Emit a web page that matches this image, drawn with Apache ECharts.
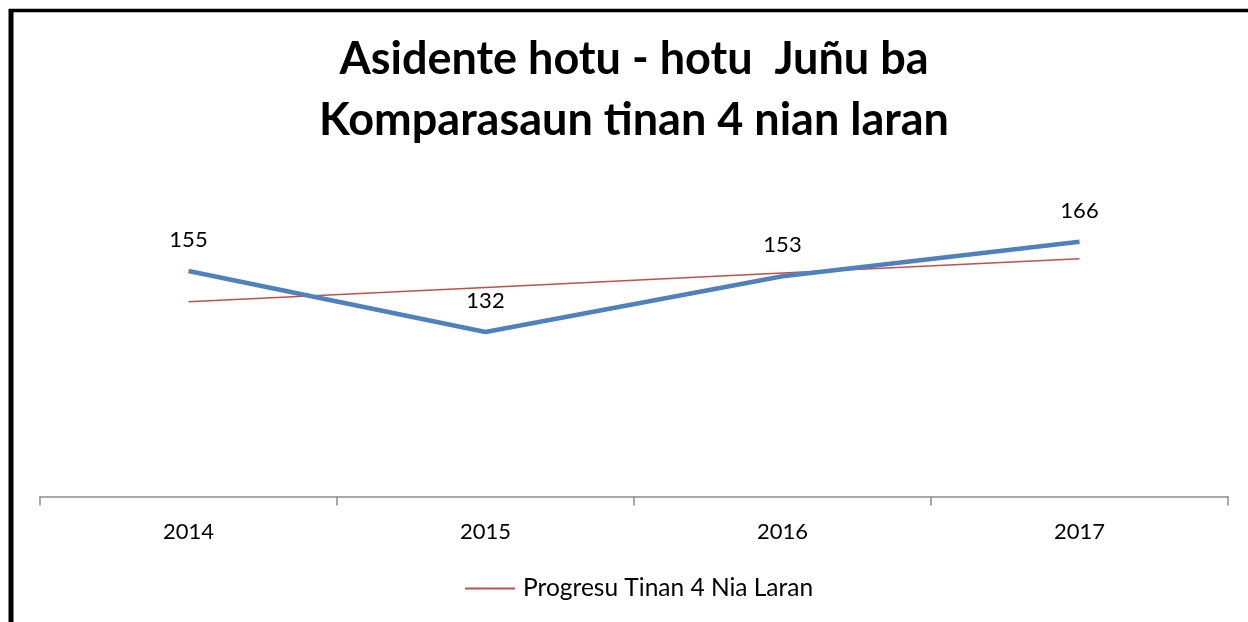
<!DOCTYPE html>
<html>
<head>
<meta charset="utf-8">
<script src="https://cdn.jsdelivr.net/npm/echarts@6/dist/echarts.min.js"></script>
<style>
html,body{margin:0;padding:0;background:#fff;}
#chart{width:1248px;height:622px;}
</style>
</head>
<body>
<div id="chart"></div>
<script>
const titleText = "Asidente hotu - hotu  Juñu ba\nKomparasaun tinan 4 nian laran";
const categories = ["2014", "2015", "2016", "2017"];
const accidents = [155, 132, 153, 166];
const trendName = "Progresu Tinan 4 Nia Laran";
const trendValues = [143.4, 148.8, 154.2, 159.6];

const FONT = "Lato, 'Open Sans', sans-serif";
const chart = echarts.init(document.getElementById('chart'));
chart.setOption({
  backgroundColor: '#ffffff',
  animation: false,
  title: {
    text: titleText,
    left: 634,
    top: 29,
    padding: 0,
    textAlign: 'center',
    textStyle: {fontFamily: FONT, fontWeight: 'bold', fontSize: 45, color: '#000', lineHeight: 61}
  },
  legend: {
    data: [trendName],
    bottom: 16,
    left: 460,
    itemWidth: 50,
    itemHeight: 2,
    itemGap: 8,
    icon: 'rect',
    textStyle: {fontFamily: FONT, fontSize: 24.5, color: '#000', padding: [0, 0, 0, 3]}
  },
  grid: {left: 40, right: 20, top: 204.7, height: 291.7},
  xAxis: {
    type: 'category',
    data: categories,
    boundaryGap: true,
    axisLine: {lineStyle: {color: '#8c8c8c', width: 1.5}},
    axisTick: {show: true, length: 9, alignWithLabel: false, lineStyle: {color: '#8c8c8c', width: 1.5}},
    axisLabel: {fontFamily: FONT, fontSize: 22, color: '#000', margin: 25}
  },
  yAxis: {
    type: 'value',
    min: 70,
    max: 180,
    show: false,
    splitLine: {show: false}
  },
  graphic: [
    {type: 'line', shape: {x1: 11, y1: 9, x2: 11, y2: 640}, style: {stroke: '#000', lineWidth: 5}},
    {type: 'line', shape: {x1: 9, y1: 10.5, x2: 1260, y2: 10.5}, style: {stroke: '#000', lineWidth: 3.5}}
  ],
  series: [
    {
      name: 'Asidente',
      type: 'line',
      data: accidents,
      symbol: 'circle',
      symbolSize: 0,
      showSymbol: true,
      lineStyle: {color: '#4f81bd', width: 4.5},
      itemStyle: {color: '#4f81bd'},
      label: {show: true, position: 'top', distance: 20, fontFamily: FONT, fontSize: 22, color: '#000'},
      z: 3
    },
    {
      name: trendName,
      type: 'line',
      data: trendValues,
      symbol: 'none',
      lineStyle: {color: '#c0504d', width: 1.5},
      itemStyle: {color: '#c0504d'},
      z: 2
    }
  ]
});
</script>
</body>
</html>
